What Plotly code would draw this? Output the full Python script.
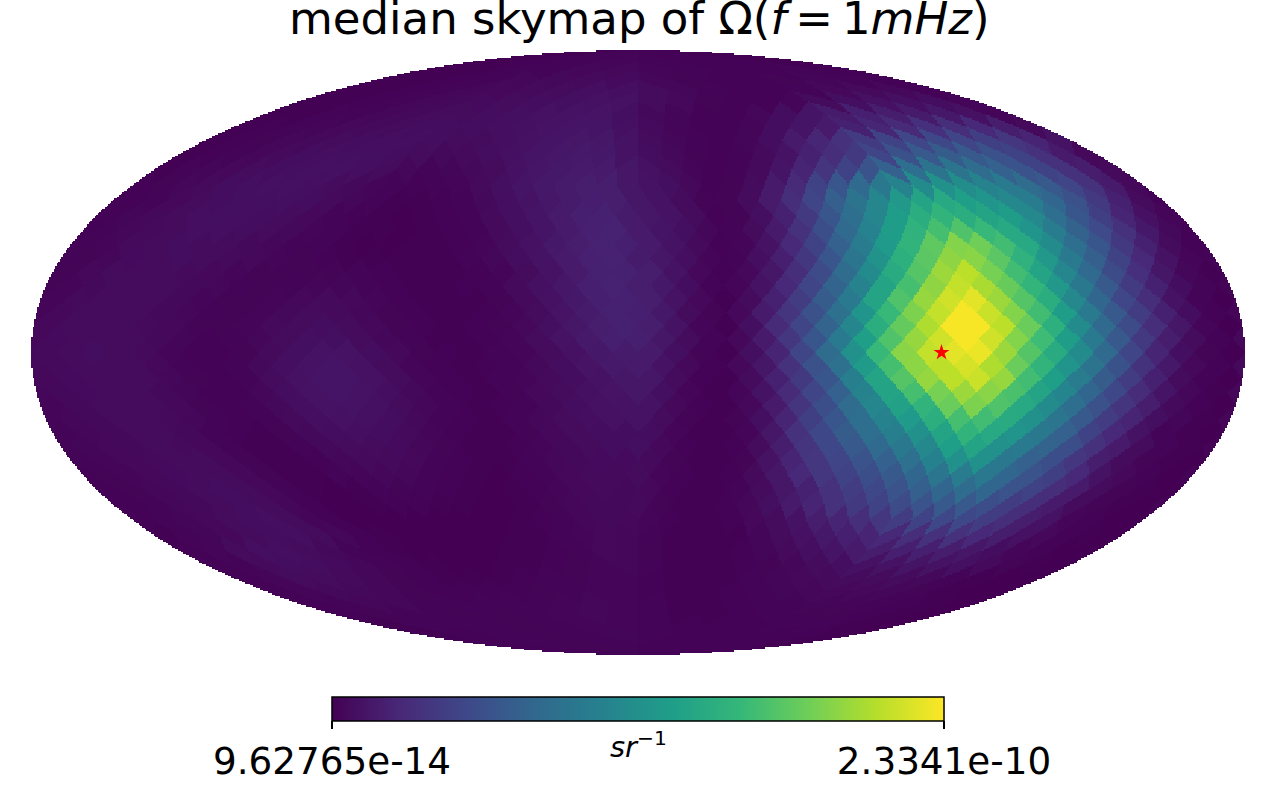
import numpy as np
import plotly.graph_objects as go

TITLE = "median skymap of Ω(<i>f</i>\u2009=\u20091<i>mHz</i>)"
UNIT = "<i>sr</i><sup>−1</sup>"
VMIN = 9.62765e-14
VMAX = 2.3341e-10
TICK_LABELS = ["9.62765e-14", "2.3341e-10"]
NSIDE = 12
star_lon = [-90.0]
star_lat = [0.0]

# Pixel brightness per HEALPix ring, read left to right, in percent of the colour range
r01 = [.4,.9,.7,.4]
r02 = [.3,.7,1.2,1.4,.8,.5,.5,.4]
r03 = [.2,.4,.8,1.2,1.7,2,1.5,.8,.5,.6,.8,.5]
r04 = [.2,.4,.7,1.1,1.6,2.2,2.6,2.7,1.8,1,.6,.6,1,1.3,1.2,.5]
r05 = [.2,.4,.7,1.1,1.6,2.1,2.6,3.1,3.6,3.8,2.8,1.7,.9,.5,.6,1.2,2,2.5,2,.7]
r06 = [.2,.4,.7,1.1,1.6,2.2,2.7,3.1,3.5,4,4.5,4.5,3.2,2,1,.5,.6,1.5,2.8,4,4.5,4.3,3.5,1.5]
r07 = [.2,.4,.8,1.2,1.8,2.4,2.9,3.2,3.4,3.9,4.5,5,5.2,4,2.4,1.3,.6,.7,1.7,3.5,5.5,7.5,8.5,8,7.5,6.5,4.5,1.5]
r08 = [.2,.5,.9,1.4,2,2.6,3,3.3,3.3,3.3,3.7,4.3,5,5.5,5.5,4.3,2.7,1.5,.7,.7,1.5,3.5,5.5,7,9,10.5,12,13.5,13,11,8,2.5]
r09 = [.2,.5,1,1.6,2.3,3,3.5,3.7,3.6,3.3,3,3.2,3.8,4.6,5.5,6,6,4.8,3,1.8,.8,.6,1.3,3.5,7,10.5,14,17.5,20,21.5,22,21,19,16,10,5]
r10 = [.3,.6,1.2,1.8,2.6,3.3,3.8,4,4,3.5,2.8,2.3,2.6,3.4,4.4,5.5,6.3,6.8,6.5,5,3.5,2.2,1,.5,.8,2.5,5,9,13,17,21,25,28,29,28,25,20,14,7,2]
r11 = [.4,.8,1.3,2,2.8,3.5,4,4.3,4.2,3.7,2.8,1.8,1.1,1.3,2.2,3.2,4.6,5.8,6.6,7,7,6,
       4.5,3,1.5,.6,.9,2.5,5.5,10,15,20,26,31,36,38,38,35,31,26,20,14,8,2.5]
r12 = [.5,1,1.7,2.6,3.4,4,4.3,4.2,3.7,3,2.3,1.5,.8,.5,.8,1.5,2.5,4,5.5,6.5,7.5,8,8,6,
       5,4,2,.7,1,3,7,12,20,27,34,40,45,48,50,49,45,41,35,28,21,14,7,2]
r13 = [.5,.6,1.2,2,2.8,3.5,4,4.1,3.9,3.3,2.5,1.7,.9,.4,.3,.6,1.2,2.2,3.7,5,6.2,7.5,8.3,8,
       6,5,3,1,1,3,7,13,21,30,38,46,53,58,60,56,52,47,42,33,25,17,9,3]
r14 = [.7,1.3,2.2,3,3.7,4,3.8,3.4,2.8,2,1.2,.7,.3,.1,.2,.5,1.2,2.5,4,5.5,7,8.5,9,7.5,
       6,5,3,.7,1,4,9,17,27,36,46,55,62,65,62,58,55,47,36,27,19,10,4.5,1.5]
r15 = [.6,.9,1.6,2.5,3.2,3.6,3.7,3.4,2.9,2.2,1.5,.9,.4,.2,.1,.3,.6,1.2,2.5,4,5.5,7.2,8.8,9.3,
       7,5.5,4,1.7,.9,2.8,7,14,24,34,44.5,55,64,70,72,67,60,52,42,31.5,22.5,14,6.5,2.4]
r16 = [.8,1.5,2.5,3.2,3.5,3.2,2.8,2.2,1.7,1.2,.8,.4,.1,.1,.2,.3,.7,1.5,3,4.5,6.5,8,9.5,8.5,
       7,5,2.5,.5,1.5,5,11,20,31,42,54,65,75,81,78,69,60,48,36,27,17,9,3,.5]
r17 = [.8,1,1.8,2.7,3.2,3.3,3,2.5,1.9,1.4,1,.6,.3,.2,.2,.2,.4,.9,1.8,3.3,5,7,8.8,9.5,
       7.5,6,3.7,1.5,1.2,3.7,8.5,16.5,27,39,51,63,74,83,82,74,64,53,41,30,20,11,5,1.4]
r18 = [1,2,3,3.2,3,2.5,2,1.5,1,1,1,1,.8,.5,.3,.2,.3,.7,1.5,3,5,7,9,9,
       8,5,2,.5,2,6,13,23,35,48,61,73,85,90,79,69,58,46,34,23,13.5,6,1.7,.3]
r19 = [1,1.5,2.3,3,3.1,2.9,2.3,1.8,1.2,1,1.2,1.5,1.3,.9,.5,.3,.2,.5,1.1,2.5,4.2,6.3,8.5,9.3,
       8,6.5,3.5,1.2,1.5,5,11.5,21,32,45,58,70,83,91,87,76.5,65.5,53,40,28,17.5,9,3.4,.8]
r20 = [1.5,2.5,3,3,2.8,2.2,1.5,1,1,1.5,2,2.5,2,1.5,.7,.3,.2,.4,1,2.5,4.5,6.5,8.5,9,
       8,5,2,.3,3,9,18,29,41,58,72,84,93,96,85,73,62,47,33,21.5,13,5,1.2,0]
r21 = [1.5,2,2.8,3,2.9,2.4,1.7,1.1,1,1.5,2.2,2.8,2.6,1.8,1,.5,.3,.3,.7,1.5,3.2,5.2,7.5,9,
       8.5,6.5,3,1,2,7,15,25,37,52,67,80,91,99,92,81,69,55,41,28,18,9,3.3,.6]
r22 = [2,3,3,3,2.5,2,1,1,1.5,2.5,3,3.5,3,2,1,.5,.3,.5,1,2,4,6,8,9,
       8,5,1.5,.3,4,12,21,32,46,62,76,88,99,99,90,77,63,48,34,23,13,6,1.5,0]
r23 = [2,2.7,3.1,3.2,2.9,2.2,1.3,.7,.9,1.7,3,4,4,3,1.6,.8,.4,.3,.7,1.5,3,4.8,6.8,8.5,
       8.5,6,3,.8,2,7,16,27,41,56,72,84,93,99,93,81,68.5,55,41,28,17,8,3,.5]
r24 = [2.5,3,3.5,3.2,2.5,1.5,.7,.5,1,2.5,4,5,5,3.5,2,1,.5,.3,.8,1.5,3,4.5,6.5,7.5,
       7,4,1,.3,4,10,21,35,50,67,82,91,96,97,85,73,61,48,34,21,10,4,1,0]
r25 = [2.2,2.6,3,3.2,2.8,2,1.1,.5,.9,2.2,3.8,5,5.5,4.5,3,1.5,.7,.3,.6,1.2,2.3,3.5,5.2,6.7,
       7,5,2,.5,2,6,14,25,37,54.5,70,82.5,90,94,88,77,65,52,38,25.5,14.5,6.5,2,.5]
r26 = [2,2.7,3,3.2,2.8,1.8,1,.5,1.2,3,4.5,5.5,5.5,4.5,3,1.5,.7,.3,.8,1.5,2.5,3.5,5,6,
       6,3,.7,.3,3,9,17,27,43,58,73,84,90,92,84,69,56,42,29,18,9,3,.7,0]
r27 = [1.8,2.2,2.7,3,3,2.3,1.3,.7,.7,1.8,3.5,5,5.5,5,3.7,2.2,1.1,.5,.4,1,1.9,3,4.2,5.2,
       6,4,1.5,.4,1.5,5,12,21,31,45,58,70,79,85,82,71,58,45.5,33,22,12.5,5.5,1.6,.2]
r28 = [1.5,2.2,2.8,3,2.8,2,1,.5,.8,2.2,3.7,5,5,4.3,3,1.7,.8,.3,.5,1.2,2.2,3.3,4.5,5,
       5,2,.5,.3,2,7,15,24,35,46,57,65,77,80,72,60,48,36,25,15,8,2.5,.5,0]
r29 = [1.4,1.7,2.3,2.8,2.9,2.5,1.6,.8,.5,1.2,2.5,3.8,4.5,4.3,3.3,2.2,1.2,.5,.3,.8,1.7,2.8,3.8,4.5,
       5,3,1,.3,1,4,10,19,27,36,45,54,62.5,70,69,61,50,39,28,18,10,4,1.3,.2]
r30 = [1.2,1.8,2.4,2.8,2.8,2.2,1.2,.5,.3,1,2.3,3.5,3.8,3.5,2.5,1.5,.7,.2,.4,1,2,2.8,3.5,3.5,
       3.5,1.5,.3,.2,1.5,6,14,22,29,36,43,50,58,65,60,52,40,31,20,11,5,1.2,.3,0]
r31 = [1,1.3,1.9,2.4,2.8,2.6,2,1.1,.4,.4,1.2,2.3,3.1,3.1,2.7,1.8,1,.4,.2,.6,1.5,2.4,3,3.3,
       4,2,.7,.2,.7,3,8,15,22,28,34,40,47,56,58,50,41,32,24,14,7,3,.9,.2]
r32 = [.8,1.4,2,2.6,3,2.8,2,1,.3,.2,.7,1.8,2.5,2.5,2,1.2,.5,.2,.3,.8,1.7,2.3,2.7,2.7,
       2.5,1,.2,.2,1,5,10,16,21,26,31,37,44,50,50,40,31,24,16,8,3,1,.3,0]
r33 = [.7,1,1.4,2,2.7,3.1,2.8,2,1,.3,.2,.8,1.5,1.8,1.6,1.1,.5,.2,.1,.5,1.2,2,2.5,2.6,
       3,1.5,.5,.2,.6,2.5,6,11,16,20,24,28,33,39,42,40,33,26,19,11,5,2,.5,.1]
r34 = [.6,1,1.6,2.3,3,3.3,3,2,.8,.2,.1,.3,.8,1,.9,.6,.2,.1,.2,.7,1.5,2.1,2.5,2.3,
       2,.7,.2,.2,.8,3,6,9,14,18,22,26,30,33,35,33,26,20,13,7,3,1,.3,0]
r35 = [.5,.7,1.1,1.7,2.4,3.1,3.5,3,1.8,.6,.1,.1,.3,.5,.5,.4,.2,.1,.1,.3,1,1.7,2.2,2.3,
       2.5,1,.3,.2,.5,1.8,4,7,10,14,17,20,23,26,28,28,24,18,13,7,3,1,.3,0]
r36 = [.5,.8,1.3,2,2.8,3.5,3.7,3,1.5,.5,.1,.1,.1,.1,.1,.1,.1,.1,.2,.5,1.2,1.8,2.2,2,
       1.5,.5,.2,.2,.5,2,3,5,8,10,13,16,18,20,22,22,18,13,8,5,1.5,.5,.1,0]
r37 = [.4,.8,1.3,2,2.8,3.5,3.7,3,1.7,.7,.2,.1,.1,.1,.1,.1,.2,.4,.9,1.5,1.9,1.7,
       1.2,.4,.2,.2,.4,1.3,2.8,4.5,6.5,8.5,10,11.5,13,14,14,11.5,8,4.5,2,.7,.2,0]
r38 = [.6,1.5,3,3.8,3.7,3.2,2.3,1.2,.6,.3,.1,.1,.1,.1,.2,.4,.7,1.2,1.9,1.8,
       1,.3,.2,.3,.6,1.3,2.5,3.8,5.5,7,8,8.5,8.5,8,6,3.5,1.5,.5,.1,0]
r39 = [.5,1.2,2.5,3.5,3.5,2.7,1.8,1,.5,.2,.1,.1,.2,.4,.7,1,1.5,1.6,
       .8,.3,.2,.3,.5,1,1.8,2.8,3.8,4.5,5,5.3,5,4.2,2.5,1,.3,.1]
r40 = [.6,1.5,2.8,3,2.5,1.8,1,.6,.3,.2,.3,.5,.8,1,1.4,1.5,
       .7,.3,.3,.4,.8,1.3,1.9,2.5,3,3.2,3,2.3,1.2,.4,.1,.1]
r41 = [.6,1.4,2.3,2.3,1.7,1,.7,.5,.5,.7,1,1.2,1.5,1.4,
       .7,.4,.3,.5,.9,1.3,1.7,2,2,1.7,1,.4,.1,.1]
r42 = [.6,1.2,1.7,1.7,1.2,.9,.8,.9,1.1,1.4,1.6,1.5,
       .8,.4,.4,.5,.8,1.1,1.3,1.4,1.2,.7,.3,.1]
r43 = [.5,1,1.2,1.1,1,1,1.2,1.4,1.6,1.5,.8,.4,.4,.6,.8,1,1,.7,.3,.1]
r44 = [.4,.8,.9,.9,1,1.2,1.4,1.5,.8,.5,.5,.6,.8,.8,.4,.1]
r45 = [.4,.7,.9,1,1.2,1.3,.8,.5,.5,.7,.6,.2]
r46 = [.5,.8,1,1.2,.7,.5,.6,.3]
r47 = [.6,1,.7,.5]

rings = [r01,r02,r03,r04,r05,r06,r07,r08,r09,r10,r11,r12,r13,r14,r15,r16,r17,r18,r19,r20,r21,r22,r23,
         r24,r25,r26,r27,r28,r29,r30,r31,r32,r33,r34,r35,r36,r37,r38,r39,r40,r41,r42,r43,r44,r45,r46,r47]
for i, r in enumerate(rings, 1):
    n = 4 * min(i, 48 - i, NSIDE)
    assert len(r) == n, (i, len(r), n)

# Mollweide grid, same size as a healpy mollview image
NX, NY = 800, 400
xs = -1 + (np.arange(NX) + .5) * 2 / NX
ys = -1 + (np.arange(NY) + .5) * 2 / NY
X, Y = np.meshgrid(xs, ys)
inside = X**2 + Y**2 <= 1
theta = np.arcsin(np.clip(Y, -1, 1))
z = np.clip((2 * theta + np.sin(2 * theta)) / np.pi, -1, 1)
with np.errstate(divide="ignore", invalid="ignore"):
    lon = -np.pi * X / np.cos(theta)
t = np.clip((1 - lon / np.pi) / 2, 0, 1 - 1e-9)
tt = (lon % (2 * np.pi)) / (np.pi / 2)
za = np.abs(z)

grid = np.full(X.shape, np.nan)
for iy in range(NY):
    for ix in np.nonzero(inside[iy])[0]:
        zz, a, ta, tk = z[iy, ix], za[iy, ix], tt[iy, ix], t[iy, ix]
        if a <= 2 / 3:
            t1 = NSIDE * (.5 + ta)
            t2 = NSIDE * zz * .75
            jp = np.floor(t1 - t2)
            jm = np.floor(t1 + t2)
            ring = int(NSIDE + jp - jm + NSIDE)
            n = 4 * NSIDE
            k = int(tk * n) if ring % 2 == 0 else int(tk * n + .5) % n
        else:
            tp = ta - np.floor(ta)
            tmp = NSIDE * np.sqrt(3 * (1 - a))
            ir = int(np.floor(tp * tmp) + np.floor((1 - tp) * tmp) + 1)
            ir = min(ir, NSIDE)
            ring = ir if zz > 0 else 4 * NSIDE - ir
            k = int(tk * 4 * ir)
        grid[iy, ix] = rings[ring - 1][k]

values = VMIN + grid / 100 * (VMAX - VMIN)
zlist = [[None if np.isnan(v) else float(f"{v:.4g}") for v in row] for row in values]

theta_star = np.array([0.0])
star_x = [-lo / 180 * np.cos(th) for lo, th in zip(star_lon, theta_star)]
star_y = [np.sin(th) for th in theta_star]

fig = go.Figure()
fig.add_trace(go.Heatmap(
    x=xs, y=ys, z=zlist, colorscale="Viridis", zmin=VMIN, zmax=VMAX, hoverinfo="skip",
    colorbar=dict(
        orientation="h", lenmode="pixels", len=612, thicknessmode="pixels", thickness=24,
        x=638 / 1275, xanchor="center", xpad=0, ypad=0,
        y=1 - 697 / 810, yanchor="top",
        outlinecolor="#000000", outlinewidth=1.5,
        tickmode="array", tickvals=[VMIN, VMAX], ticktext=TICK_LABELS,
        ticks="outside", ticklen=8, tickwidth=1.5, tickcolor="#000000",
        tickfont=dict(family="DejaVu Sans", size=37.3, color="#000000"),
    ),
))
fig.add_trace(go.Scatter(
    x=star_x, y=star_y, mode="markers", hoverinfo="skip", showlegend=False,
    marker=dict(symbol="star", size=12, color="#ff0000", line=dict(width=0)),
))
fig.add_annotation(text=TITLE, xref="paper", yref="paper", x=639 / 1275, y=1 - 47 / 810,
                   xanchor="center", yanchor="bottom", showarrow=False,
                   font=dict(family="DejaVu Sans", size=45, color="#000000"))
fig.add_annotation(text=UNIT, xref="paper", yref="paper", x=638 / 1275, y=1 - 745 / 810,
                   xanchor="center", yanchor="middle", showarrow=False,
                   font=dict(family="DejaVu Sans", size=29, color="#000000"))
fig.update_layout(
    width=1275, height=810, margin=dict(l=0, r=0, t=0, b=0),
    paper_bgcolor="#ffffff", plot_bgcolor="#ffffff", showlegend=False,
    xaxis=dict(range=[-1, 1], domain=[31 / 1275, 1245 / 1275], visible=False, fixedrange=True),
    yaxis=dict(range=[-1, 1], domain=[1 - 655 / 810, 1 - 50 / 810], visible=False, fixedrange=True),
)
fig.write_html("out.html", config={"displayModeBar": False},
               post_script="document.body.style.margin='0';document.body.style.overflow='hidden';")
